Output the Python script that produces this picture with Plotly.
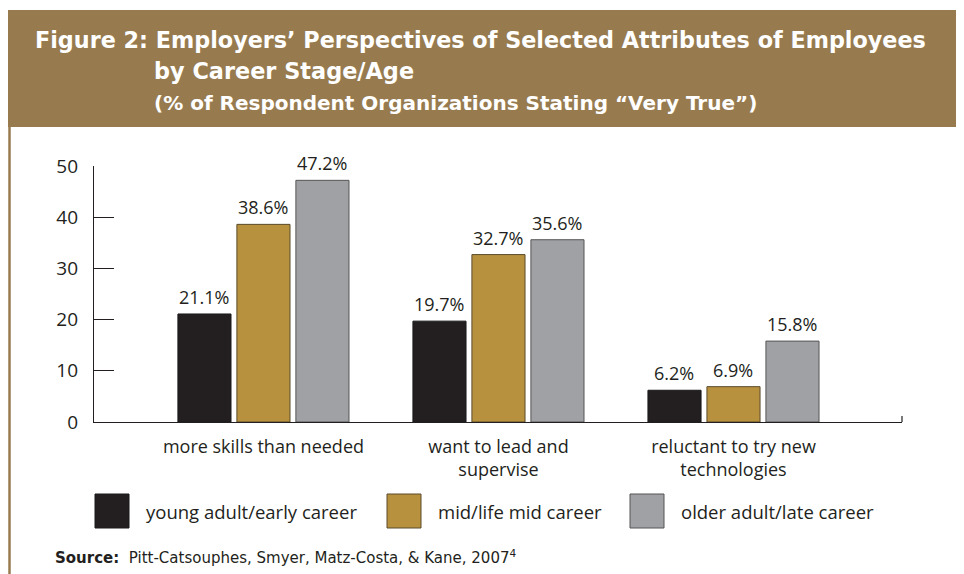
import plotly.graph_objects as go

categories = ["more skills than needed", "want to lead and<br>supervise", "reluctant to try new<br>technologies"]
series_names = ["young adult/early career", "mid/life mid career", "older adult/late career"]
young = [21.1, 19.7, 6.2]
mid = [38.6, 32.7, 6.9]
older = [47.2, 35.6, 15.8]
y_ticks = [0, 10, 20, 30, 40, 50]

colors = ["#231F20", "#B8913F", "#A0A1A4"]
line_colors = ["#1a1a1a", "#5a4a2a", "#555555"]
FONT = "Open Sans"
TFONT = "DejaVu Sans"
TXT = "#231F20"

# page shows figure offset by body margin of 8px
W, H = 956, 566
L, T = 86, 158
PW, PH = 808, 256

def px(x):
    return (x - 94) / PW

def py(y):
    return (422 - y) / PH

fig = go.Figure()
xs = list(range(len(categories)))
all_series = [young, mid, older]
for name, vals, c, lc in zip(series_names, all_series, colors, line_colors):
    fig.add_trace(go.Bar(x=xs, y=vals, name=name, marker=dict(color=c, line=dict(color=lc, width=1)),
                         showlegend=False, cliponaxis=False))

annotations = []
for j, vals in enumerate(all_series):
    for i, v in enumerate(vals):
        annotations.append(dict(x=xs[i], y=v, xref="x", yref="y", text=f"{v:.1f}%", showarrow=False,
                                xshift=(j - 1) * 59, yshift=3, yanchor="bottom",
                                font=dict(family=FONT, size=18, color=TXT)))

shapes = [
    dict(type="rect", xref="paper", yref="paper", x0=px(7), x1=px(970), y0=py(127), y1=py(10),
         fillcolor="#977B4F", line=dict(width=0), layer="below"),
    dict(type="line", xref="paper", yref="paper", x0=px(9.5), x1=px(9.5), y0=py(10), y1=py(580),
         line=dict(color="#977B4F", width=2.5)),
    dict(type="line", xref="paper", yref="paper", x0=1, x1=1, y0=0, y1=6/PH, line=dict(color=TXT, width=1.2)),
]

title_lines = [
    ("Figure 2: Employers’ Perspectives of Selected Attributes of Employees", 33, 40, 22.3),
    ("by Career Stage/Age", 152, 71, 22.4),
    ("(% of Respondent Organizations Stating “Very True”)", 152, 103, 20),
]
for t, x0, y0, s in title_lines:
    annotations.append(dict(x=px(x0), y=py(y0), xref="paper", yref="paper", text=f"<b>{t}</b>",
                            showarrow=False, xanchor="left", yanchor="middle",
                            font=dict(family=TFONT, size=s, color="white")))

leg_x = [95, 387, 630]
for name, c, lc, lx in zip(series_names, colors, line_colors, leg_x):
    shapes.append(dict(type="rect", xref="paper", yref="paper",
                       x0=px(lx), x1=px(lx + 34), y0=py(528), y1=py(494),
                       fillcolor=c, line=dict(color=lc, width=1)))
    annotations.append(dict(x=px(lx + 49), y=py(511), xref="paper", yref="paper", text=name,
                            showarrow=False, xanchor="left", yanchor="middle",
                            font=dict(family=FONT, size=18.5, color=TXT)))

annotations.append(dict(x=px(53), y=py(557), xref="paper", yref="paper",
                        text="<b>Source:</b>  Pitt-Catsouphes, Smyer, Matz-Costa, & Kane, 2007<sup>4</sup>",
                        showarrow=False, xanchor="left", yanchor="middle",
                        font=dict(family=TFONT, size=15, color=TXT)))

fig.update_layout(
    width=W, height=H,
    margin=dict(l=L, r=W - L - PW, t=T, b=H - T - PH),
    paper_bgcolor="white", plot_bgcolor="white",
    barmode="group", bargap=0.247, bargroupgap=0.10,
    shapes=shapes, annotations=annotations,
    font=dict(family=FONT, color=TXT),
)
fig.update_xaxes(range=[-0.721, 2.717], tickvals=xs, ticktext=categories, showline=True, linecolor=TXT,
                 linewidth=1.2, ticks="", showgrid=False, zeroline=False,
                 tickfont=dict(family=FONT, size=18, color=TXT), ticklabelstandoff=8)
fig.update_yaxes(range=[0, 50], tickvals=y_ticks, showline=True, linecolor=TXT, linewidth=1.2,
                 ticks="inside", ticklen=20, tickcolor=TXT, tickwidth=1.2, showgrid=False, zeroline=False,
                 tickfont=dict(family=FONT, size=19, color=TXT), ticklabelstandoff=11)

fig.write_html("out.html")
